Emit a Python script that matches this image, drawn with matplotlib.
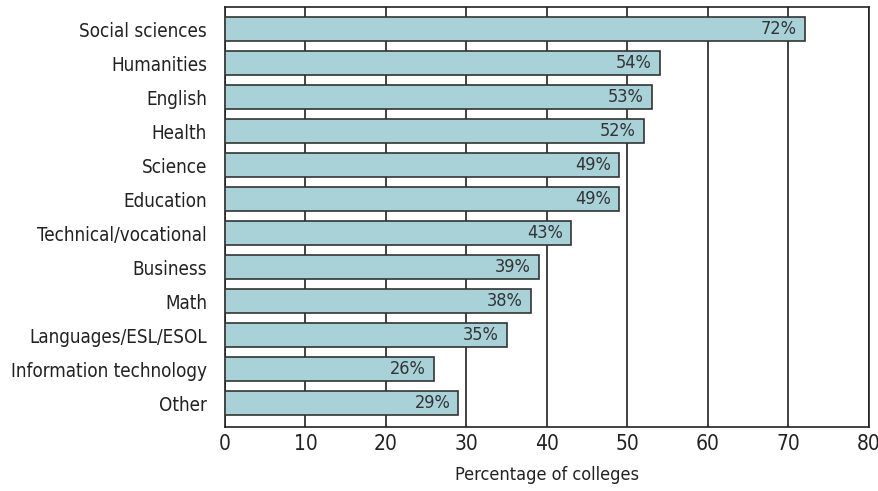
import matplotlib
matplotlib.use("Agg")
import matplotlib.pyplot as plt

plt.rcParams['font.family'] = ['DejaVu Sans']
plt.rcParams['font.stretch'] = 'condensed'

categories = ["Social sciences", "Humanities", "English", "Health", "Science",
              "Education", "Technical/vocational", "Business", "Math",
              "Languages/ESL/ESOL", "Information technology", "Other"]
values = [72, 54, 53, 52, 49, 49, 43, 39, 38, 35, 26, 29]
xticks = [0, 10, 20, 30, 40, 50, 60, 70, 80]

fig = plt.figure(figsize=(8.79, 4.91), dpi=100)
ax = fig.add_axes([225 / 879, 1 - 427 / 491, 644 / 879, 420 / 491])

ypos = list(range(len(categories)))
ax.barh(ypos, values, height=0.71, color="#a8d1d8", edgecolor="#333333",
        linewidth=1.2, zorder=3)
for y, v in zip(ypos, values):
    ax.text(v - 1.0, y, f"{v}%", ha="right", va="center", fontsize=13,
            color="#333333", zorder=4)

ax.set_xlim(0, 80)
ax.set_ylim(len(categories) - 1 + 0.7, -0.65)
ax.set_yticks(ypos)
ax.set_yticklabels(categories, fontsize=13.5, color="#222222")
ax.set_xticks(xticks)
ax.set_xticklabels([str(t) for t in xticks], fontsize=15, color="#222222")
ax.tick_params(axis="y", length=0, pad=13)
ax.tick_params(axis="x", length=0, pad=5)
ax.xaxis.grid(True, color="#222222", linewidth=1.2, zorder=0)
ax.set_axisbelow(True)
for s in ax.spines.values():
    s.set_color("#222222")
    s.set_linewidth(1.2)
ax.set_xlabel("Percentage of colleges", fontsize=13, color="#222222", labelpad=9)

fig.savefig("out.png", dpi=100)
